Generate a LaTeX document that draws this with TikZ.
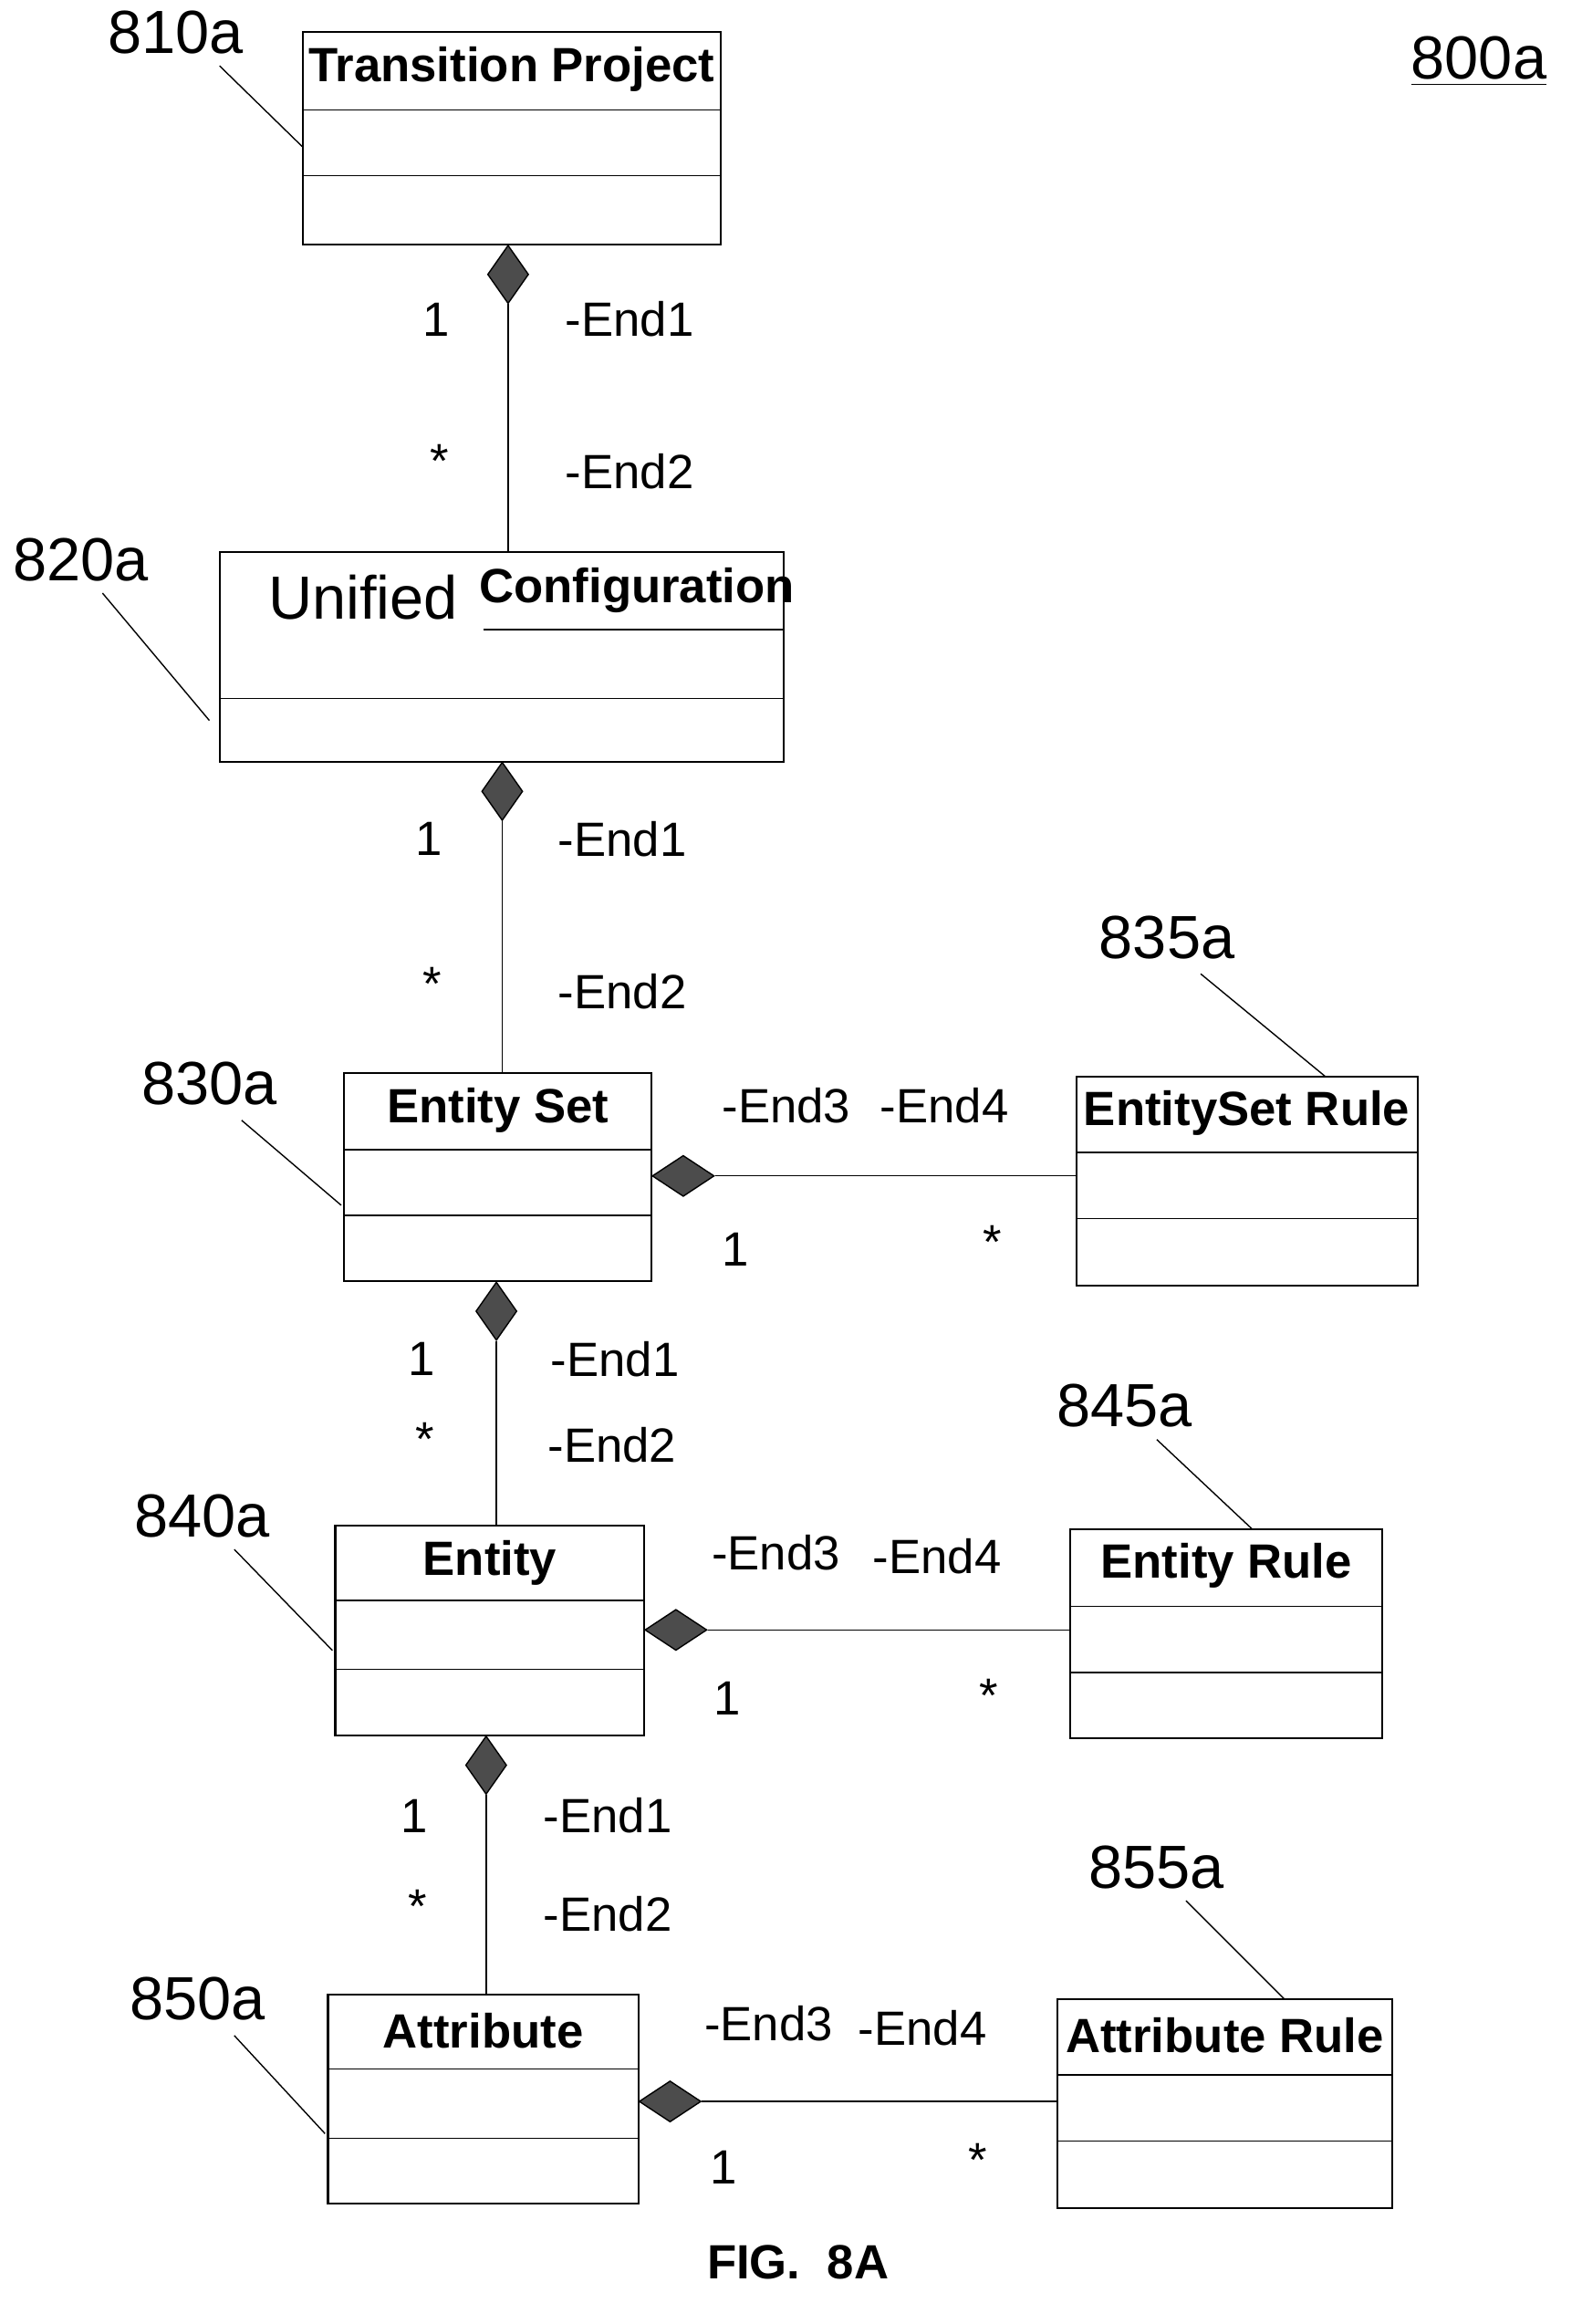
\documentclass[tikz,border=0pt]{standalone}
\usepackage{fontspec}
\setmainfont{Liberation Sans}
\usetikzlibrary{shapes.geometric}

% class box: name, x, y (top), width, height, first rule, second rule, title
\newcommand{\classbox}[8]{%
  \node[cls, minimum width=#4*0.016046cm, minimum height=#5*0.016046cm] (#1) at (#2+#4/2,#3+#5/2) {};
  \node[title] (#1t) at (#2+#4/2,#3+25) {#8};
  \draw[thin] (#2,#6) -- (#2+#4,#6);
  \draw[thin] (#2,#7) -- (#2+#4,#7);
}

\begin{document}
\begin{tikzpicture}[x=0.016046cm,y=-0.016046cm]
	\tikzset{cls/.style={draw, rectangle, inner sep=0pt, line width=0.6pt},
		title/.style={font=\fontsize{15}{17}\selectfont\bfseries},
		ref/.style={font=\fontsize{19}{21}\selectfont},
		lab/.style={font=\fontsize{15}{17}\selectfont},
		vdia/.style={diamond, draw, fill=black!70, inner sep=0pt, minimum width=0.45cm, minimum height=0.64cm, anchor=north},
		hdia/.style={diamond, draw, fill=black!70, inner sep=0pt, minimum width=0.68cm, minimum height=0.45cm, anchor=west}}
	\useasboundingbox (0,0) rectangle (1080,1587);

	% classes
	\classbox{tp}{207}{22}{285}{145}{75}{120}{Transition Project}
	\node[cls, minimum width=385*0.016046cm, minimum height=143*0.016046cm] (uc) at (342.5,448.5) {};
	\node[font=\fontsize{19}{21}\selectfont] (uct1) at (248,408) {Unified};
	\node[title] (uct2) at (435,403) {Configuration};
	\draw[thin] (330,430) -- (535,430);
	\draw[thin] (150,477) -- (535,477);
	\classbox{es}{235}{733}{210}{142}{785}{830}{Entity Set}
	\classbox{esr}{735}{735}{233}{143}{787}{832}{EntitySet Rule}
	\classbox{en}{229}{1042}{211}{143}{1093}{1140}{Entity}
	\classbox{enr}{731}{1044}{213}{143}{1097}{1142}{Entity Rule}
	\classbox{at}{224}{1362}{212}{143}{1413}{1460}{Attribute}
	\classbox{atr}{722}{1365}{229}{143}{1417}{1462}{Attribute Rule}

	% compositions
	\node[vdia] (d1) at (347,167) {};
	\draw (d1.south) -- (347,377);
	\node[vdia] (d2) at (343,520) {};
	\draw (d2.south) -- (es.north -| d2.south);
	\node[vdia] (d3) at (339,875) {};
	\draw (d3.south) -- (en.north -| d3.south);
	\node[vdia] (d4) at (332,1185) {};
	\draw (d4.south) -- (at.north -| d4.south);
	\node[hdia] (d5) at (445,803) {};
	\draw (d5.east) -- (d5.east -| esr.west);
	\node[hdia] (d6) at (440,1113) {};
	\draw (d6.east) -- (d6.east -| enr.west);
	\node[hdia] (d7) at (436,1435) {};
	\draw (d7.east) -- (d7.east -| atr.west);

	% end labels
	\foreach \x/\y/\t in {298/218/1, 430/218/-End1, 300/315/*, 430/322/-End2,
		293/573/1, 425/573/-End1, 295/672/*, 425/677/-End2,
		288/928/1, 420/928/-End1, 290/983/*, 418/987/-End2,
		283/1240/1, 415/1240/-End1, 285/1302/*, 415/1307/-End2,
		537/755/-End3, 645/755/-End4, 502/853/1, 678/848/*,
		530/1060/-End3, 640/1063/-End4, 497/1160/1, 675/1158/*,
		525/1382/-End3, 630/1385/-End4, 494/1480/1, 668/1475/*}
		\node[lab] at (\x,\y) {\t};

	% reference numerals
	\node[ref] (r810) at (120,22) {810a};
	\draw[thin] (150,45) -- (tp.west |- 0,100);
	\node[ref] at (1010,42) {\underline{800a}};
	\node[ref] (r820) at (55,382) {820a};
	\draw[thin] (70,405) -- (143,492);
	\node[ref] (r830) at (143,740) {830a};
	\draw[thin] (165,765) -- (233,823);
	\node[ref] (r835) at (797,640) {835a};
	\draw[thin] (820,665) -- (905,735);
	\node[ref] (r840) at (138,1035) {840a};
	\draw[thin] (160,1058) -- (227,1127);
	\node[ref] (r845) at (768,960) {845a};
	\draw[thin] (790,983) -- (855,1044);
	\node[ref] (r850) at (135,1365) {850a};
	\draw[thin] (160,1390) -- (222,1457);
	\node[ref] (r855) at (790,1275) {855a};
	\draw[thin] (810,1298) -- (877,1365);

	\node[font=\fontsize{15}{17}\selectfont\bfseries] (fig) at (545,1545) {FIG.~~8A};
\end{tikzpicture}
\end{document}
